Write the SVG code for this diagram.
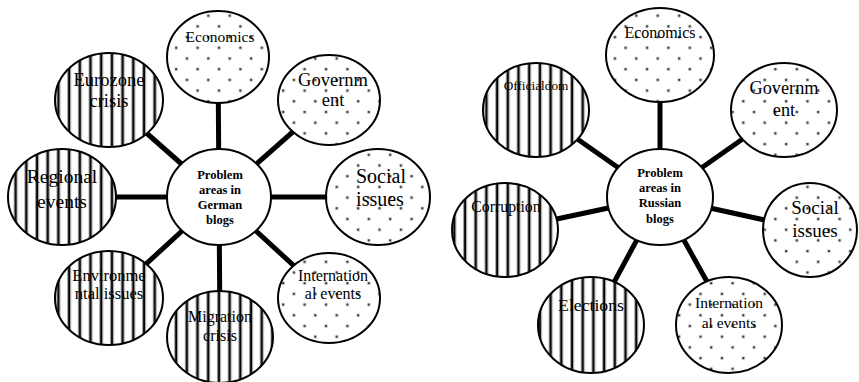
<svg xmlns="http://www.w3.org/2000/svg" width="859" height="382" viewBox="0 0 859 382">
<defs>
<pattern id="stripes" patternUnits="userSpaceOnUse" width="10.7" height="10" x="0" y="0">
<rect width="10.7" height="10" fill="#fff"/>
<rect x="3" width="1" height="10" fill="#999"/>
<rect x="4" width="2" height="10" fill="#000"/>
<rect x="6" width="1" height="10" fill="#999"/>
</pattern>
<pattern id="dots" patternUnits="userSpaceOnUse" width="21.4" height="21.4" x="0" y="0">
<rect width="21.4" height="21.4" fill="#fff"/>
<rect x="3.5" y="3.5" width="3" height="3" fill="#bbb"/>
<rect x="4" y="4" width="2" height="2" fill="#333"/>
<rect x="14.2" y="14.2" width="3" height="3" fill="#bbb"/>
<rect x="14.7" y="14.7" width="2" height="2" fill="#333"/>
</pattern>
<style>
.node{stroke:#000;stroke-width:2}
.st{fill:url(#stripes)}
.dt{fill:url(#dots)}
.hub{fill:#fff}
text{font-family:'Liberation Serif','Times New Roman',serif;fill:#000;text-anchor:middle}
.b{font-weight:bold;font-size:12.5px}
.conn line{stroke:#000;stroke-width:5}
</style>
</defs>
<rect width="859" height="382" fill="#fff"/>
<g id="connectors" class="conn">
<line x1="219" y1="197" x2="218" y2="57"/>
<line x1="219" y1="197" x2="109" y2="100"/>
<line x1="219" y1="197" x2="329" y2="100"/>
<line x1="219" y1="197" x2="62" y2="197"/>
<line x1="219" y1="197" x2="378" y2="197"/>
<line x1="219" y1="197" x2="109" y2="298"/>
<line x1="219" y1="197" x2="220" y2="337"/>
<line x1="219" y1="197" x2="329" y2="298"/>
<line x1="660" y1="197" x2="660" y2="55"/>
<line x1="660" y1="197" x2="536" y2="110"/>
<line x1="660" y1="197" x2="784" y2="110"/>
<line x1="660" y1="197" x2="505" y2="230"/>
<line x1="660" y1="197" x2="810" y2="230"/>
<line x1="660" y1="197" x2="591" y2="325"/>
<line x1="660" y1="197" x2="731" y2="325"/>
</g>
<g id="de-economics"><ellipse class="node dt" cx="218" cy="57" rx="51" ry="46"/><text x="220" y="42" font-size="15.5">Economics</text></g>
<g id="de-eurozone"><ellipse class="node st" cx="109" cy="100" rx="54" ry="47"/><text x="109" y="86" font-size="18.5">Eurozone</text><text x="109" y="107" font-size="18.5">crisis</text></g>
<g id="de-government"><ellipse class="node dt" cx="329" cy="100" rx="51" ry="45"/><text x="333" y="86" font-size="18.5">Governm</text><text x="333" y="106" font-size="18.5">ent</text></g>
<g id="de-regional"><ellipse class="node st" cx="62" cy="197" rx="54" ry="48"/><text x="62" y="183" font-size="19.5">Regional</text><text x="62" y="208" font-size="19.5">events</text></g>
<g id="de-social"><ellipse class="node dt" cx="378" cy="197" rx="52" ry="48"/><text x="381" y="183" font-size="20">Social</text><text x="380" y="206" font-size="20">issues</text></g>
<g id="de-environmental"><ellipse class="node st" cx="109" cy="298" rx="54" ry="47"/><text x="109" y="281" font-size="16.5">Environme</text><text x="109" y="299" font-size="16.5">ntal issues</text></g>
<g id="de-migration"><ellipse class="node st" cx="220" cy="337" rx="53" ry="46"/><text x="220" y="322" font-size="16">Migration</text><text x="220" y="341" font-size="16">crisis</text></g>
<g id="de-international"><ellipse class="node dt" cx="329" cy="298" rx="51" ry="45"/><text x="333" y="281" font-size="16">Internation</text><text x="333" y="299" font-size="16">al events</text></g>
<g id="de-hub"><ellipse class="node hub" cx="219" cy="197" rx="52" ry="48"/><text class="b" x="220" y="179">Problem</text><text class="b" x="220" y="194">areas in</text><text class="b" x="220" y="209">German</text><text class="b" x="220" y="224">blogs</text></g>
<g id="ru-economics"><ellipse class="node dt" cx="660" cy="55" rx="54" ry="47"/><text x="660" y="38" font-size="16">Economics</text></g>
<g id="ru-officialdom"><ellipse class="node st" cx="536" cy="110" rx="53" ry="47"/><text x="536" y="90" font-size="13.3">Officialdom</text></g>
<g id="ru-government"><ellipse class="node dt" cx="784" cy="110" rx="53" ry="47"/><text x="784" y="94" font-size="18.3">Governm</text><text x="784" y="116" font-size="18.3">ent</text></g>
<g id="ru-corruption"><ellipse class="node st" cx="505" cy="230" rx="53" ry="47"/><text x="506" y="212" font-size="15.8">Corruption</text></g>
<g id="ru-social"><ellipse class="node dt" cx="810" cy="230" rx="47" ry="47"/><text x="815" y="214" font-size="19">Social</text><text x="815" y="237" font-size="19">issues</text></g>
<g id="ru-elections"><ellipse class="node st" cx="591" cy="325" rx="53" ry="48"/><text x="591" y="311" font-size="17.7">Elections</text></g>
<g id="ru-international"><ellipse class="node dt" cx="729" cy="325" rx="53" ry="48"/><text x="729" y="308" font-size="15.5">Internation</text><text x="729" y="328" font-size="15.5">al events</text></g>
<g id="ru-hub"><ellipse class="node hub" cx="660" cy="197" rx="53" ry="48"/><text class="b" x="660" y="177">Problem</text><text class="b" x="660" y="192">areas in</text><text class="b" x="660" y="207">Russian</text><text class="b" x="660" y="223">blogs</text></g>
</svg>
